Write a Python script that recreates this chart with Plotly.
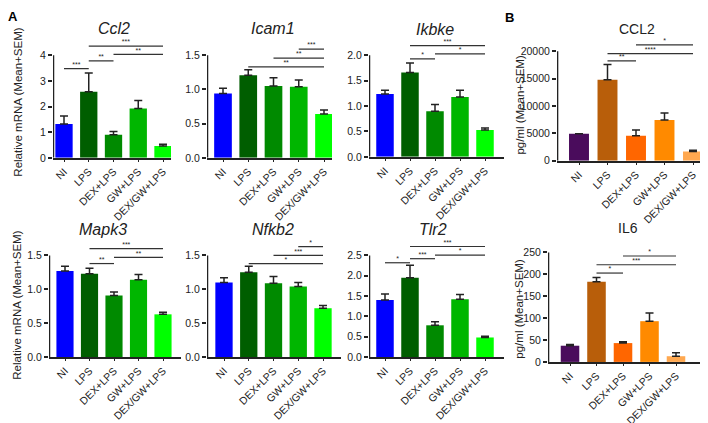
import plotly.graph_objects as go

W, H = 708, 423

groups = ["NI", "LPS", "DEX+LPS", "GW+LPS", "DEX/GW+LPS"]

# Panel A: relative mRNA (mean, mean+SEM)
ccl2_mean = [1.32, 2.58, 0.90, 1.93, 0.46]
ccl2_upper = [1.63, 3.31, 1.03, 2.24, 0.53]
ccl2_sig = [(0, 1, 3.48, "***"), (1, 2, 3.78, "**"), (2, 4, 4.04, "**"), (1, 4, 4.36, "***")]

icam1_mean = [0.94, 1.21, 1.05, 1.04, 0.64]
icam1_upper = [1.02, 1.29, 1.17, 1.14, 0.70]
icam1_sig = [(1, 4, 1.33, "**"), (2, 4, 1.46, "**"), (3, 4, 1.59, "***")]

ikbke_mean = [1.24, 1.66, 0.90, 1.18, 0.53]
ikbke_upper = [1.31, 1.85, 1.03, 1.31, 0.57]
ikbke_sig = [(1, 2, 1.93, "*"), (2, 4, 2.03, "*"), (1, 4, 2.19, "***")]

mapk3_mean = [1.27, 1.23, 0.91, 1.14, 0.63]
mapk3_upper = [1.34, 1.31, 0.96, 1.22, 0.66]
mapk3_sig = [(1, 2, 1.38, "**"), (2, 4, 1.47, "**"), (1, 4, 1.60, "***")]

nfkb2_mean = [1.10, 1.25, 1.09, 1.04, 0.72]
nfkb2_upper = [1.17, 1.34, 1.19, 1.10, 0.76]
nfkb2_sig = [(1, 4, 1.38, "*"), (2, 4, 1.50, "***"), (3, 4, 1.63, "*")]

tlr2_mean = [1.40, 1.95, 0.78, 1.42, 0.48]
tlr2_upper = [1.55, 2.26, 0.87, 1.54, 0.51]
tlr2_sig = [(0, 1, 2.32, "*"), (1, 2, 2.42, "***"), (2, 4, 2.51, "*"), (1, 4, 2.72, "***")]

# Panel B: protein pg/ml (mean, mean+SEM)
ccl2p_mean = [4950, 14820, 4600, 7470, 1690]
ccl2p_upper = [4950, 17600, 5650, 8730, 1930]
ccl2p_sig = [(1, 2, 18250, "**"), (1, 4, 19600, "****"), (2, 4, 21200, "*")]

il6_mean = [37, 183, 43, 93, 13]
il6_upper = [40, 193, 46, 112, 21]
il6_sig = [(1, 2, 203, "*"), (1, 4, 222, "***"), (2, 4, 242, "*")]

colors_A = ["#0000ff", "#005e00", "#008a00", "#00b600", "#00ff00"]
colors_B = ["#4a0c5c", "#b85e0a", "#ff6600", "#ff8a00", "#ffa850"]

FONT = "Liberation Sans, Arial, sans-serif"
INK = "#222222"

# layout geometry in pixels: axis left, axis right, NI center, last center, y0 px, top-tick px
panels = [
    dict(t="Ccl2", it=True, m=ccl2_mean, u=ccl2_upper, s=ccl2_sig, c=colors_A,
         ticks=[0, 1, 2, 3, 4], fmt="{:g}", L=45, R=163, c0=56, c4=155, p0=152, pt=48, ext=4.75,
         tx=106, ty=21),
    dict(t="Icam1", it=True, m=icam1_mean, u=icam1_upper, s=icam1_sig, c=colors_A,
         ticks=[0, 0.5, 1.0, 1.5], fmt="{:.1f}", L=199, R=324, c0=215, c4=316, p0=152, pt=48, ext=1.75,
         tx=265, ty=21),
    dict(t="Ikbke", it=True, m=ikbke_mean, u=ikbke_upper, s=ikbke_sig, c=colors_A,
         ticks=[0, 0.5, 1.0, 1.5, 2.0], fmt="{:.1f}", L=361, R=496, c0=377, c4=477, p0=151, pt=48, ext=2.4,
         tx=427, ty=22),
    dict(t="CCL2", it=False, m=ccl2p_mean, u=ccl2p_upper, s=ccl2p_sig, c=colors_B,
         ticks=[0, 5000, 10000, 15000, 20000], fmt="{:d}", L=549, R=695, c0=571, c4=685, p0=155, pt=44, ext=23000,
         tx=629, ty=21),
    dict(t="Mapk3", it=True, m=mapk3_mean, u=mapk3_upper, s=mapk3_sig, c=colors_A,
         ticks=[0, 0.5, 1.0, 1.5], fmt="{:.1f}", L=41, R=173, c0=57, c4=155, p0=354, pt=251, ext=1.75,
         tx=95, ty=225),
    dict(t="Nfkb2", it=True, m=nfkb2_mean, u=nfkb2_upper, s=nfkb2_sig, c=colors_A,
         ticks=[0, 0.5, 1.0, 1.5], fmt="{:.1f}", L=199, R=333, c0=216, c4=315, p0=354, pt=251, ext=1.78,
         tx=265, ty=225),
    dict(t="Tlr2", it=True, m=tlr2_mean, u=tlr2_upper, s=tlr2_sig, c=colors_A,
         ticks=[0, 0.5, 1.0, 1.5, 2.0, 2.5], fmt="{:.1f}", L=361, R=496, c0=377, c4=477, p0=354, pt=251, ext=3.0,
         tx=425, ty=225),
    dict(t="IL6", it=False, m=il6_mean, u=il6_upper, s=il6_sig, c=colors_B,
         ticks=[0, 50, 100, 150, 200, 250], fmt="{:d}", L=540, R=695, c0=562, c4=668, p0=359, pt=248, ext=265,
         tx=620, ty=223),
]

fig = go.Figure()
annotations = []
layout = {}
xs = list(range(5))

for i, p in enumerate(panels, start=1):
    xa = "x" if i == 1 else f"x{i}"
    ya = "y" if i == 1 else f"y{i}"
    ppx = (p["c4"] - p["c0"]) / 4.0
    r0 = (p["L"] - p["c0"]) / ppx
    r1 = (p["R"] - p["c0"]) / ppx
    top = p["ticks"][-1]
    ppy = (p["p0"] - p["pt"]) / top
    dom_top_px = p["p0"] - p["ext"] * ppy
    ydom = [1 - p["p0"] / H, 1 - dom_top_px / H]
    xdom = [p["L"] / W, p["R"] / W]

    fig.add_trace(go.Bar(
        x=xs, y=p["m"], marker=dict(color=p["c"], line=dict(width=0)), width=0.7,
        error_y=dict(type="data", symmetric=False,
                     array=[u - m for u, m in zip(p["u"], p["m"])],
                     arrayminus=[0] * 5, color=INK, thickness=1.5, width=4),
        xaxis=xa, yaxis=ya, showlegend=False, hoverinfo="skip"))

    # y axis line only up to the top tick
    fig.add_trace(go.Scatter(
        x=[r0 + 0.02, r0 + 0.02], y=[0, top], mode="lines",
        line=dict(color=INK, width=1.5), xaxis=xa, yaxis=ya,
        showlegend=False, hoverinfo="skip"))

    # significance brackets
    for (a, b, lvl, stars) in p["s"]:
        fig.add_trace(go.Scatter(
            x=[a, b], y=[lvl, lvl], mode="lines", line=dict(color="#333333", width=1.2),
            xaxis=xa, yaxis=ya, showlegend=False, hoverinfo="skip"))
        fig.add_trace(go.Scatter(
            x=[(a + b) / 2], y=[lvl], mode="text", text=[stars], textposition="top center",
            textfont=dict(size=7, color=INK, family=FONT), cliponaxis=False,
            xaxis=xa, yaxis=ya, showlegend=False, hoverinfo="skip"))

    layout["xaxis" if i == 1 else f"xaxis{i}"] = dict(
        domain=xdom, range=[r0, r1], anchor=ya, tickvals=xs, ticktext=groups,
        tickangle=-45, ticks="outside", ticklen=2, tickwidth=1.2, tickcolor=INK,
        showline=True, linecolor=INK, linewidth=1.5, showgrid=False, zeroline=False,
        tickfont=dict(size=10.5, color=INK, family=FONT), fixedrange=True)
    layout["yaxis" if i == 1 else f"yaxis{i}"] = dict(
        domain=ydom, range=[0, p["ext"]], anchor=xa,
        tickvals=p["ticks"], ticktext=[p["fmt"].format(v) for v in p["ticks"]],
        ticks="outside", ticklen=4, tickwidth=1.5, tickcolor=INK,
        showline=False, showgrid=False, zeroline=False,
        tickfont=dict(size=10.5, color=INK, family=FONT), fixedrange=True)

    title = f"<i>{p['t']}</i>" if p["it"] else p["t"]
    annotations.append(dict(
        x=p["tx"] / W, y=1 - p["ty"] / H, xref="paper", yref="paper", text=title,
        showarrow=False, xanchor="center", yanchor="middle",
        font=dict(size=16 if p["it"] else 14, color=INK, family=FONT)))

# y axis titles
for (txt, x, y) in [("Relative mRNA (Mean+SEM)", 10, 96), ("Relative mRNA (Mean+SEM)", 9, 302),
                    ("pg/ml (Mean+SEM)", 512, 98), ("pg/ml (Mean+SEM)", 511, 305)]:
    annotations.append(dict(x=x / W, y=1 - y / H, xref="paper", yref="paper", text=txt,
                            textangle=-90, showarrow=False, xanchor="center", yanchor="middle",
                            font=dict(size=11.5, color=INK, family=FONT)))

# panel letters
annotations.append(dict(x=5 / W, y=1 - 9 / H, xref="paper", yref="paper", text="<b>A</b>",
                        showarrow=False, xanchor="center", yanchor="middle",
                        font=dict(size=13, color="#000", family=FONT)))
annotations.append(dict(x=501 / W, y=1 - 10 / H, xref="paper", yref="paper", text="<b>B</b>",
                        showarrow=False, xanchor="center", yanchor="middle",
                        font=dict(size=13, color="#000", family=FONT)))

fig.update_layout(
    width=W, height=H, margin=dict(l=0, r=0, t=0, b=0),
    paper_bgcolor="white", plot_bgcolor="white", bargap=0.3,
    annotations=annotations, font=dict(family=FONT, color=INK), **layout)

fig.write_html("out.html")
